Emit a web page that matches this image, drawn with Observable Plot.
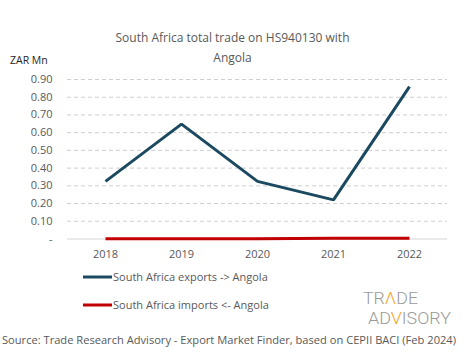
<!DOCTYPE html>
<html>
<head>
<meta charset="utf-8">
<script src="https://cdn.jsdelivr.net/npm/d3@7"></script>
<script src="https://cdn.jsdelivr.net/npm/@observablehq/plot@0.6"></script>
<style>
  body { margin: 0; background: #fff; }
  #wrap { position: relative; width: 465px; height: 359px; font-family: "Open Sans", sans-serif; color: #595959; }
  .t { position: absolute; white-space: nowrap; }
  #chart { position: absolute; left: 0; top: 62px; }
</style>
</head>
<body>
<div id="wrap">
  <div class="t" style="left:0;width:465px;text-align:center;top:29px;font-size:12px;">South Africa total trade on HS940130 with</div>
  <div class="t" style="left:0;width:465px;text-align:center;top:49px;font-size:12px;">Angola</div>
  <div class="t" style="left:10px;top:53px;font-size:10.5px;color:#262626;">ZAR Mn</div>
  <div id="chart"></div>
  <svg class="t" style="left:0;top:0;" width="465" height="359" id="overlay"></svg>
</div>
<script>
const years = ["2018", "2019", "2020", "2021", "2022"];
const exportsVals = [0.325, 0.648, 0.325, 0.221, 0.86];
const importsVals = [0.001, 0.001, 0.001, 0.004, 0.004];
const yTicks = [0, 0.1, 0.2, 0.3, 0.4, 0.5, 0.6, 0.7, 0.8, 0.9];
const seriesNames = ["South Africa exports -> Angola", "South Africa imports <- Angola"];
const seriesColors = ["#1b4a60", "#c00000"];
const caption = "Source: Trade Research Advisory - Export Market Finder, based on CEPII BACI (Feb 2024)";

const rows = [];
years.forEach((y, i) => {
  rows.push({year: y, value: exportsVals[i], series: seriesNames[0]});
  rows.push({year: y, value: importsVals[i], series: seriesNames[1]});
});

const chart = Plot.plot({
  width: 465,
  height: 200,
  marginTop: 17,
  marginBottom: 23.5,
  marginLeft: 67,
  marginRight: 18,
  style: {fontFamily: "Open Sans, sans-serif", fontSize: "11px", color: "#595959", background: "transparent"},
  x: {type: "point", domain: years, padding: 0.5, label: null},
  y: {domain: [0, 0.9], label: null},
  color: {domain: seriesNames, range: seriesColors},
  marks: [
    Plot.ruleY(yTicks.filter(d => d > 0), {stroke: "#cfcfcf", strokeDasharray: "4,3", strokeWidth: 1}),
    Plot.ruleY([0], {stroke: "#d6d6d6", strokeWidth: 1}),
    Plot.axisY({ticks: yTicks, tickSize: 0, tickPadding: 15, tickFormat: d => d === 0 ? "-" : d.toFixed(2), fontSize: 11}),
    Plot.axisX({tickSize: 0, tickPadding: 11, fontSize: 11}),
    Plot.line(rows, {x: "year", y: "value", z: "series", stroke: "series", strokeWidth: 3, strokeLinejoin: "miter", strokeLinecap: "butt"})
  ]
});
document.getElementById("chart").appendChild(chart);

// Legend, logo and caption
const ov = d3.select("#overlay");
seriesNames.forEach((name, i) => {
  const y = 277 + i * 28;
  ov.append("line").attr("x1", 83).attr("x2", 112).attr("y1", y).attr("y2", y)
    .attr("stroke", seriesColors[i]).attr("stroke-width", 3);
  ov.append("text").attr("x", 113).attr("y", y + 4).attr("font-size", 11)
    .attr("font-family", "Open Sans, sans-serif").attr("fill", "#595959").text(name);
});

const logo = ov.append("g").attr("font-family", "Roboto, sans-serif").attr("font-weight", 300).attr("font-size", 16.5).attr("fill", "#9a9a9a");
const logoLines = [
  {x: 363, y: 304, w: 55, parts: [["TR", null], ["Λ", "#f2a41c"], ["DE", null]]},
  {x: 368, y: 324, w: 83, parts: [["AD", null], ["V", "#f2a41c"], ["ISORY", null]]}
];
logoLines.forEach(l => {
  const t = logo.append("text").attr("x", l.x).attr("y", l.y)
    .attr("textLength", l.w).attr("lengthAdjust", "spacingAndGlyphs");
  l.parts.forEach(([s, c]) => {
    const ts = t.append("tspan").text(s);
    if (c) ts.attr("fill", c);
  });
});

ov.append("text").attr("x", 2).attr("y", 344).attr("font-size", 11).attr("textLength", 454).attr("lengthAdjust", "spacingAndGlyphs")
  .attr("font-family", "Open Sans, sans-serif").attr("fill", "#595959").text(caption);
</script>
</body>
</html>
